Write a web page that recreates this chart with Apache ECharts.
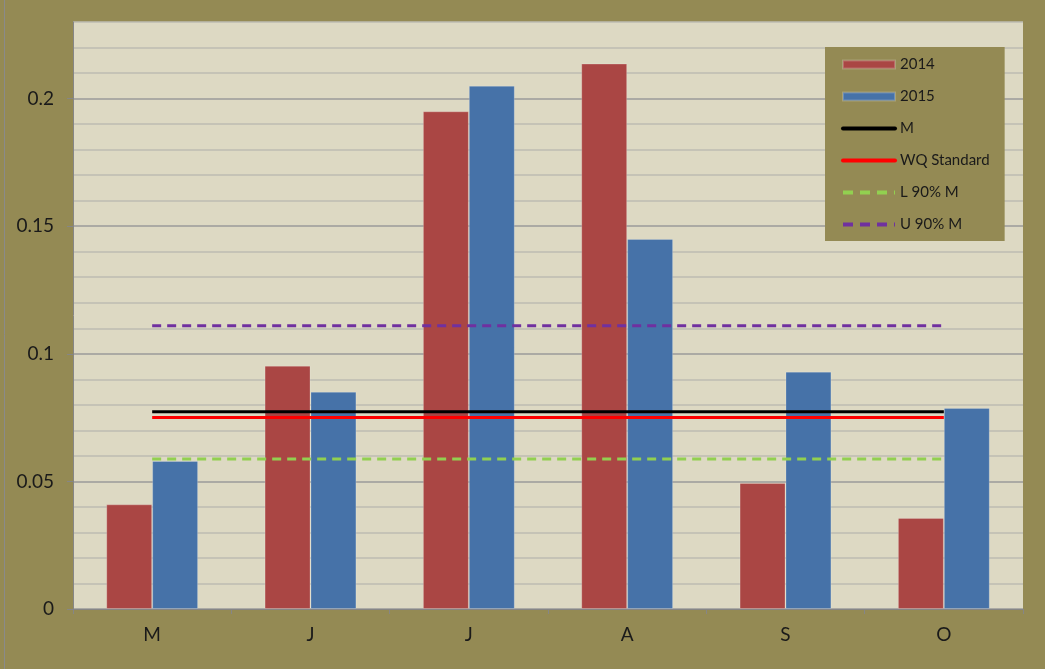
<!DOCTYPE html>
<html>
<head>
<meta charset="utf-8">
<script src="https://cdn.jsdelivr.net/npm/echarts@6/dist/echarts.min.js"></script>
<style>
html,body{margin:0;padding:0;background:#948A54;}
#chart{width:1045px;height:669px;}
</style>
</head>
<body>
<div id="chart"></div>
<script>
const categories = ['M', 'J', 'J', 'A', 'S', 'O'];
const values2014 = [0.041, 0.0953, 0.195, 0.2137, 0.0494, 0.0357];
const values2015 = [0.058, 0.0851, 0.205, 0.145, 0.093, 0.0788];
const valuesM = [0.0773, 0.0773, 0.0773, 0.0773, 0.0773, 0.0773];
const valuesWQ = [0.075, 0.075, 0.075, 0.075, 0.075, 0.075];
const valuesL90 = [0.0588, 0.0588, 0.0588, 0.0588, 0.0588, 0.0588];
const valuesU90 = [0.111, 0.111, 0.111, 0.111, 0.111, 0.111];
const yTickValues = [0, 0.05, 0.1, 0.15, 0.2];
const yTickLabels = ['0', '0.05', '0.1', '0.15', '0.2'];

const chart = echarts.init(document.getElementById('chart'));
const font = 'Lato, "Liberation Sans", sans-serif';

function lineSeries(name, data, color, dashed) {
  return {
    name: name, type: 'line', data: data, symbol: 'none', z: 5,
    lineStyle: { color: color, width: 3, type: dashed ? [9, 6] : 'solid' },
    itemStyle: { color: color },
    emphasis: { disabled: true }, animation: false
  };
}
const hiddenSymbol = { color: 'rgba(0,0,0,0)', opacity: 0 };

chart.setOption({
  backgroundColor: '#948A54',
  animation: false,
  graphic: [{
    type: 'line', shape: { x1: 4.5, y1: 0, x2: 4.5, y2: 669 },
    style: { stroke: '#8a8a8a', lineWidth: 1 }
  }],
  grid: { left: 73, right: 22, top: 22, bottom: 60, show: true, backgroundColor: '#DDD9C3', borderWidth: 0 },
  legend: {
    orient: 'vertical', left: 825, top: 47,
    padding: [10, 15, 9, 16],
    backgroundColor: '#948A54',
    itemWidth: 52, itemHeight: 8, itemGap: 17, itemTextGap: 6,
    textStyle: { fontFamily: font, fontSize: 15, color: '#1a1a1a' },
    data: [
      { name: '2014', icon: 'rect' },
      { name: '2015', icon: 'rect' },
      { name: 'M', itemStyle: hiddenSymbol, lineStyle: { width: 4, cap: 'round' } },
      { name: 'WQ Standard', itemStyle: hiddenSymbol, lineStyle: { width: 4, cap: 'round' } },
      { name: 'L 90% M', itemStyle: hiddenSymbol, lineStyle: { width: 4, type: [10, 7] } },
      { name: 'U 90% M', itemStyle: hiddenSymbol, lineStyle: { width: 4, type: [10, 7] } }
    ]
  },
  xAxis: {
    type: 'category', data: categories,
    axisLine: { lineStyle: { color: '#868686', width: 1 } },
    axisTick: { show: true, length: 5, lineStyle: { color: '#868686' } },
    axisLabel: { fontFamily: font, fontSize: 19, color: '#1a1a1a', margin: 16 },
    splitLine: { show: false }
  },
  yAxis: [{
    type: 'value', min: 0, max: 0.23, interval: 0.01,
    axisLine: { show: true, lineStyle: { color: '#868686', width: 1 } },
    axisTick: { show: false },
    axisLabel: {
      fontFamily: font, fontSize: 19, color: '#1a1a1a', margin: 19,
      formatter: function (v) {
        const idx = Math.round(v / 0.05);
        if (Math.abs(v - idx * 0.05) < 1e-6 && idx < yTickLabels.length) return yTickLabels[idx];
        return '';
      }
    },
    splitLine: {
      show: true,
      lineStyle: { color: ['#9a9a9a', '#bdbbb2', '#bdbbb2', '#bdbbb2', '#bdbbb2'], width: 1.5 }
    }
  }, {
    type: 'value', min: 0, max: 0.23, position: 'left', offset: 0,
    axisLine: { show: false },
    axisTick: { show: true, length: 6, customValues: yTickValues, lineStyle: { color: '#868686' } },
    axisLabel: { show: false },
    splitLine: { show: false }
  }],
  series: [
    {
      name: '2014', type: 'bar', data: values2014, barGap: '0%', barCategoryGap: '42%',
      itemStyle: { color: '#AA4644', borderColor: 'rgba(255,255,255,0.2)', borderWidth: 1 }
    },
    {
      name: '2015', type: 'bar', data: values2015,
      itemStyle: { color: '#4672A8', borderColor: 'rgba(255,255,255,0.2)', borderWidth: 1 }
    },
    lineSeries('M', valuesM, '#000000', false),
    lineSeries('WQ Standard', valuesWQ, '#FF0000', false),
    lineSeries('L 90% M', valuesL90, '#92D050', true),
    lineSeries('U 90% M', valuesU90, '#7030A0', true)
  ]
});
</script>
</body>
</html>
